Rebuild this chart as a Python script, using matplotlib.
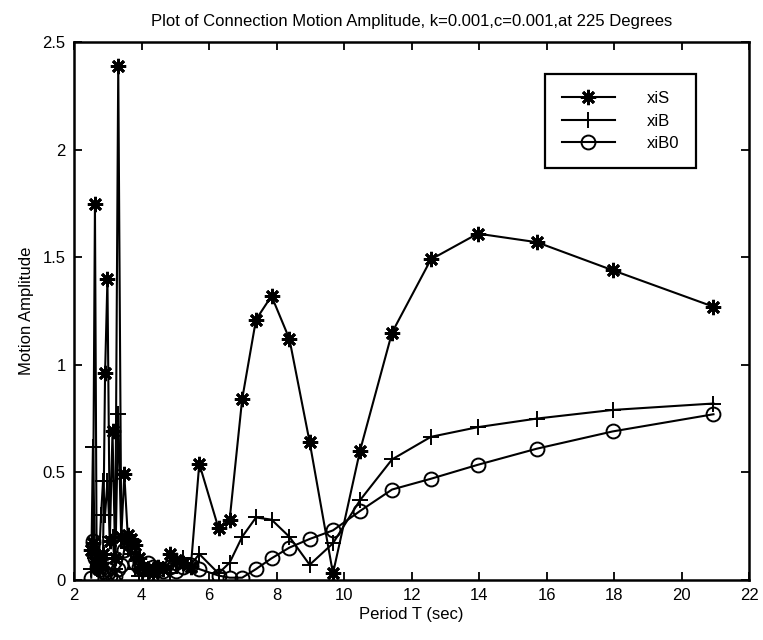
import matplotlib
matplotlib.use('Agg')
import matplotlib.pyplot as plt

plt.rcParams['font.family'] = ['Liberation Sans', 'DejaVu Sans']

# Period T (sec), shared by all three series
period = [2.51, 2.56, 2.62, 2.67, 2.73, 2.80, 2.86, 2.92, 2.99, 3.06,
          3.14, 3.22, 3.31, 3.40, 3.49, 3.59, 3.70, 3.81, 3.93, 4.05,
          4.19, 4.33, 4.49, 4.65, 4.83, 5.03, 5.24, 5.46, 5.71, 6.28,
          6.61, 6.98, 7.39, 7.85, 8.38, 8.98, 9.67, 10.47, 11.42, 12.57,
          13.96, 15.71, 17.95, 20.94]

xiS = [0.14, 0.17, 1.75, 0.10, 0.05, 0.08, 0.12, 0.96, 1.40, 0.18,
       0.69, 0.10, 2.39, 0.20, 0.49, 0.21, 0.19, 0.16, 0.10, 0.06,
       0.05, 0.03, 0.06, 0.05, 0.12, 0.09, 0.08, 0.06, 0.54, 0.24,
       0.28, 0.84, 1.21, 1.32, 1.12, 0.64, 0.03, 0.60, 1.15, 1.49,
       1.61, 1.57, 1.44, 1.27]

xiB = [0.05, 0.62, 0.10, 0.05, 0.06, 0.30, 0.46, 0.30, 0.46, 0.20,
       0.20, 0.05, 0.77, 0.18, 0.18, 0.15, 0.12, 0.05, 0.02, 0.03,
       0.02, 0.04, 0.03, 0.05, 0.03, 0.08, 0.10, 0.07, 0.12, 0.03,
       0.08, 0.20, 0.29, 0.28, 0.20, 0.07, 0.17, 0.37, 0.56, 0.665,
       0.71, 0.75, 0.79, 0.82]

xiB0 = [0.01, 0.18, 0.10, 0.06, 0.08, 0.05, 0.04, 0.03, 0.05, 0.02,
        0.00, 0.02, 0.05, 0.07, 0.14, 0.17, 0.16, 0.08, 0.06, 0.05,
        0.08, 0.06, 0.05, 0.04, 0.06, 0.04, 0.06, 0.07, 0.05, 0.02,
        0.01, 0.01, 0.05, 0.10, 0.15, 0.19, 0.23, 0.32, 0.42, 0.47,
        0.535, 0.61, 0.69, 0.77]

fig = plt.figure(figsize=(7.63, 6.4), dpi=100)
ax = fig.add_axes([0.097, 0.094, 0.885, 0.840])

# MATLAB-style asterisk marker
ax.plot(period, xiS, color='black', lw=1.5, marker=(8, 2, 0), ms=11, mew=2.0, label='xiS')
ax.plot(period, xiB, color='black', lw=1.5, marker='+', ms=12, mew=1.4, label='xiB')
ax.plot(period, xiB0, color='black', lw=1.5, marker='o', ms=10, mfc='none', mew=1.4, label='xiB0')

ax.set_xlim(2, 22)
ax.set_ylim(0, 2.5)
ax.set_xticks(range(2, 23, 2))
ax.set_yticks([0, 0.5, 1, 1.5, 2, 2.5])
ax.set_yticklabels(['0', '0.5', '1', '1.5', '2', '2.5'])
ax.tick_params(direction='in', top=True, right=True, length=6, width=1.3, labelsize=12, pad=6)
for s in ax.spines.values():
    s.set_linewidth(1.8)

ax.set_xlabel('Period T (sec)', fontsize=12, labelpad=3)
ax.set_ylabel('Motion Amplitude', fontsize=12, labelpad=6)
ax.set_title('Plot of Connection Motion Amplitude, k=0.001,c=0.001,at 225 Degrees',
             fontsize=12, pad=12)

leg = ax.legend(loc='upper right', bbox_to_anchor=(0.921, 0.94), fancybox=False,
                edgecolor='black', framealpha=1, fontsize=12, handlelength=3.2,
                borderpad=1.0, labelspacing=0.45, handletextpad=1.9, borderaxespad=0)
leg.get_frame().set_linewidth(1.6)

fig.savefig('out.png', dpi=100)
